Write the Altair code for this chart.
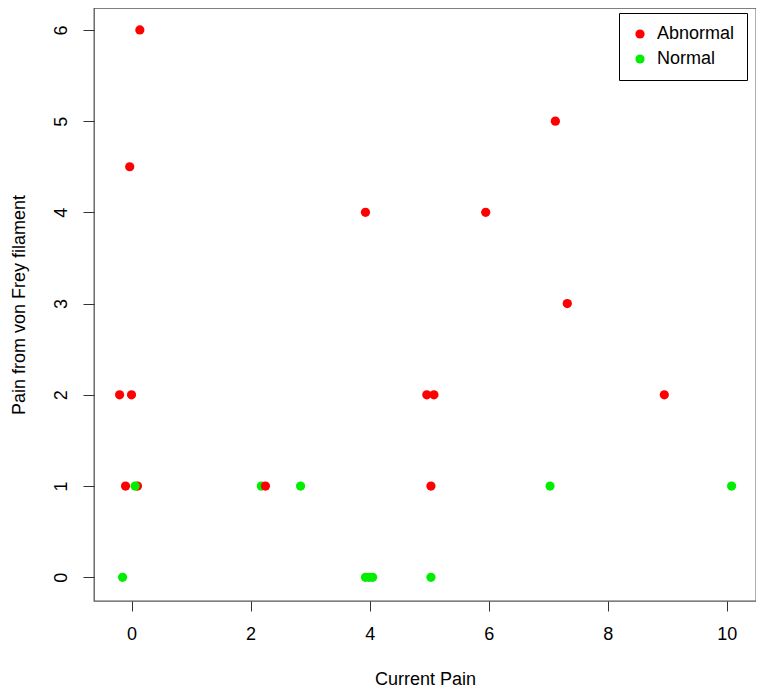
import altair as alt
import pandas as pd

# data (jittered values)
current_pain = [-0.20, 0.00, -0.10, 0.10, 0.06, -0.03, 0.14, -0.15, 2.18, 2.25, 2.84,
                3.93, 3.93, 3.99, 4.05, 4.96, 5.08, 5.03, 5.03, 5.95, 7.12, 7.32, 7.03, 8.95, 10.08]
vf_pain = [2, 2, 1, 1, 1, 4.5, 6, 0, 1, 1, 1,
           4, 0, 0, 0, 2, 2, 1, 0, 4, 5, 3, 1, 2, 1]
group = ["Abnormal", "Abnormal", "Abnormal", "Abnormal", "Normal", "Abnormal", "Abnormal", "Normal",
         "Normal", "Abnormal", "Normal",
         "Abnormal", "Normal", "Normal", "Normal", "Abnormal", "Abnormal", "Abnormal", "Normal",
         "Abnormal", "Abnormal", "Abnormal", "Normal", "Abnormal", "Normal"]

df = pd.DataFrame({
    "Current Pain": current_pain,
    "VF": vf_pain,
    "Group": group,
    "ord": list(range(len(current_pain))),
})

FONT = "Liberation Sans"

chart = alt.Chart(df).mark_point(filled=True, opacity=1, size=85).encode(
    x=alt.X("Current Pain:Q",
            scale=alt.Scale(domain=[-0.63, 10.49], nice=False, zero=False),
            axis=alt.Axis(values=[0, 2, 4, 6, 8, 10], title="Current Pain", grid=False,
                          domain=False, tickSize=10, tickColor="#333", labelPadding=14,
                          labelFontSize=18, titleFontSize=18, titleFontWeight="normal",
                          titlePadding=27, labelFont=FONT, titleFont=FONT,
                          labelColor="black", titleColor="black")),
    y=alt.Y("VF:Q",
            scale=alt.Scale(domain=[-0.26, 6.24], nice=False, zero=False),
            axis=alt.Axis(values=[0, 1, 2, 3, 4, 5, 6], title="Pain from von Frey filament",
                          grid=False, domain=False, tickSize=11, tickColor="#333",
                          labelAngle=270, labelPadding=13, labelAlign="center",
                          labelBaseline="bottom",
                          labelFontSize=18, titleFontSize=18, titleFontWeight="normal",
                          titlePadding=24, labelFont=FONT, titleFont=FONT,
                          labelColor="black", titleColor="black")),
    color=alt.Color("Group:N",
                    scale=alt.Scale(domain=["Abnormal", "Normal"], range=["#FF0000", "#00EE00"]),
                    legend=alt.Legend(title=None, orient="none", legendX=525, legendY=5,
                                      strokeColor="black", padding=12, labelFontSize=18,
                                      labelFont=FONT, labelColor="black", symbolSize=85,
                                      symbolType="circle", labelOffset=8, rowPadding=7,
                                      symbolStrokeWidth=0)),
    order=alt.Order("ord:Q"),
).properties(
    width=662, height=593,
    autosize=alt.AutoSizeParams(type="none"),
    padding={"left": 86, "top": 0, "right": 0, "bottom": 88},
    background="white",
).configure_view(
    stroke="#555", strokeWidth=1.3
)

chart.save("out.html", embed_options={"renderer": "svg", "actions": False})
